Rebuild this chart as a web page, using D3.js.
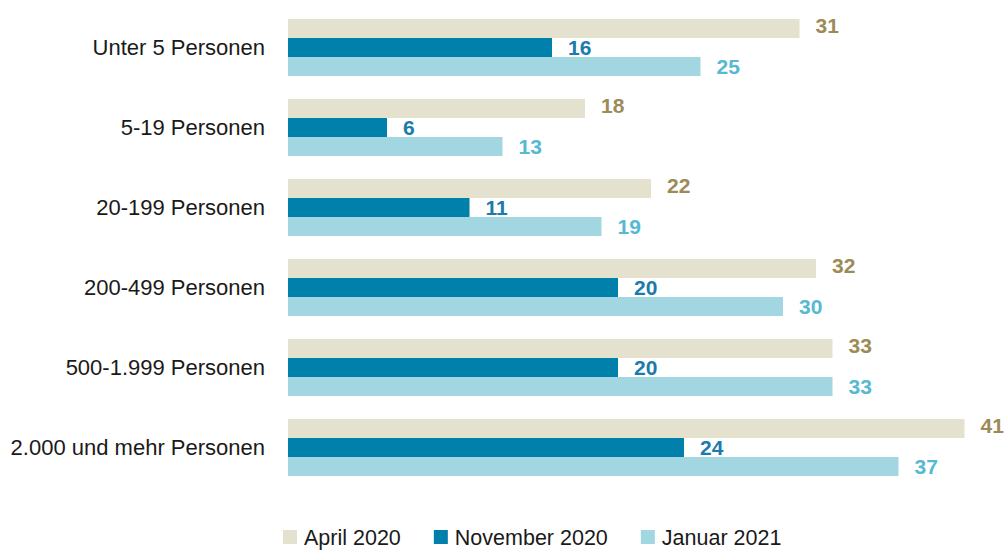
<!DOCTYPE html>
<html>
<head>
<meta charset="utf-8">
<script src="https://cdn.jsdelivr.net/npm/d3@7"></script>
<style>
  body { margin: 0; background: #fff; }
  svg text { font-family: "Liberation Sans", Arial, sans-serif; }
</style>
</head>
<body>
<div id="chart"></div>
<script>
// categories and series
const categories = ["Unter 5 Personen", "5-19 Personen", "20-199 Personen",
    "200-499 Personen", "500-1.999 Personen", "2.000 und mehr Personen"];
const seriesNames = ["April 2020", "November 2020", "Januar 2021"];
const april2020 = [31, 18, 22, 32, 33, 41];
const november2020 = [16, 6, 11, 20, 20, 24];
const januar2021 = [25, 13, 19, 30, 33, 37];

const barColors = ["#e4e1ce", "#0080aa", "#a2d6e0"];
const labelColors = ["#9c8b57", "#1b7bab", "#56b9d2"];
const labelShift = [-3, 0, 0];

const values = [april2020, november2020, januar2021];

const svg = d3.select("#chart")
    .append("svg")
    .attr("width", 1008)
    .attr("height", 550);

const x = d3.scaleLinear()
    .domain([0, 41])
    .range([288, 964.5]);

const y0 = d3.scaleBand()
    .domain(categories)
    .range([19, 476])
    .paddingInner(23 / 80)
    .paddingOuter(0);

const y1 = d3.scaleBand()
    .domain(seriesNames)
    .range([0, y0.bandwidth()]);

// build rows: one group per category
const rows = categories.map(function(c, i) {
    return {
        category: c,
        bars: seriesNames.map(function(s, j) {
            return { series: s, idx: j, value: values[j][i] };
        })
    };
});

const group = svg.selectAll(".group")
    .data(rows)
    .enter().append("g")
    .attr("class", "group")
    .attr("transform", function(d) { return "translate(0," + y0(d.category) + ")"; });

group.selectAll("rect")
    .data(function(d) { return d.bars; })
    .enter().append("rect")
    .attr("x", x(0))
    .attr("y", function(d) { return y1(d.series); })
    .attr("width", function(d) { return x(d.value) - x(0); })
    .attr("height", y1.bandwidth())
    .style("fill", function(d) { return barColors[d.idx]; });

group.selectAll(".val")
    .data(function(d) { return d.bars; })
    .enter().append("text")
    .attr("class", "val")
    .attr("x", function(d) { return x(d.value) + 16; })
    .attr("y", function(d) { return y1(d.series) + y1.bandwidth() / 2 + labelShift[d.idx]; })
    .attr("dy", "0.36em")
    .style("font-size", "21px")
    .style("font-weight", "bold")
    .style("fill", function(d) { return labelColors[d.idx]; })
    .text(function(d) { return d.value; });

// category labels
group.append("text")
    .attr("x", 265)
    .attr("y", y0.bandwidth() / 2)
    .attr("dy", "0.36em")
    .attr("text-anchor", "end")
    .style("font-size", "22px")
    .style("fill", "#1a1a1a")
    .text(function(d) { return d.category; });

// legend
const legend = svg.append("g").attr("transform", "translate(283,537)");
let lx = 0;
seriesNames.forEach(function(s, i) {
    const item = legend.append("g").attr("transform", "translate(" + lx + ",0)");
    item.append("rect")
        .attr("x", 0).attr("y", -7)
        .attr("width", 14).attr("height", 14)
        .style("fill", barColors[i]);
    const t = item.append("text")
        .attr("x", 21).attr("y", 0).attr("dy", "0.36em")
        .style("font-size", "21.5px")
        .style("fill", "#1a1a1a")
        .text(s);
    lx += 21 + t.node().getComputedTextLength() + 33;
});
</script>
</body>
</html>
